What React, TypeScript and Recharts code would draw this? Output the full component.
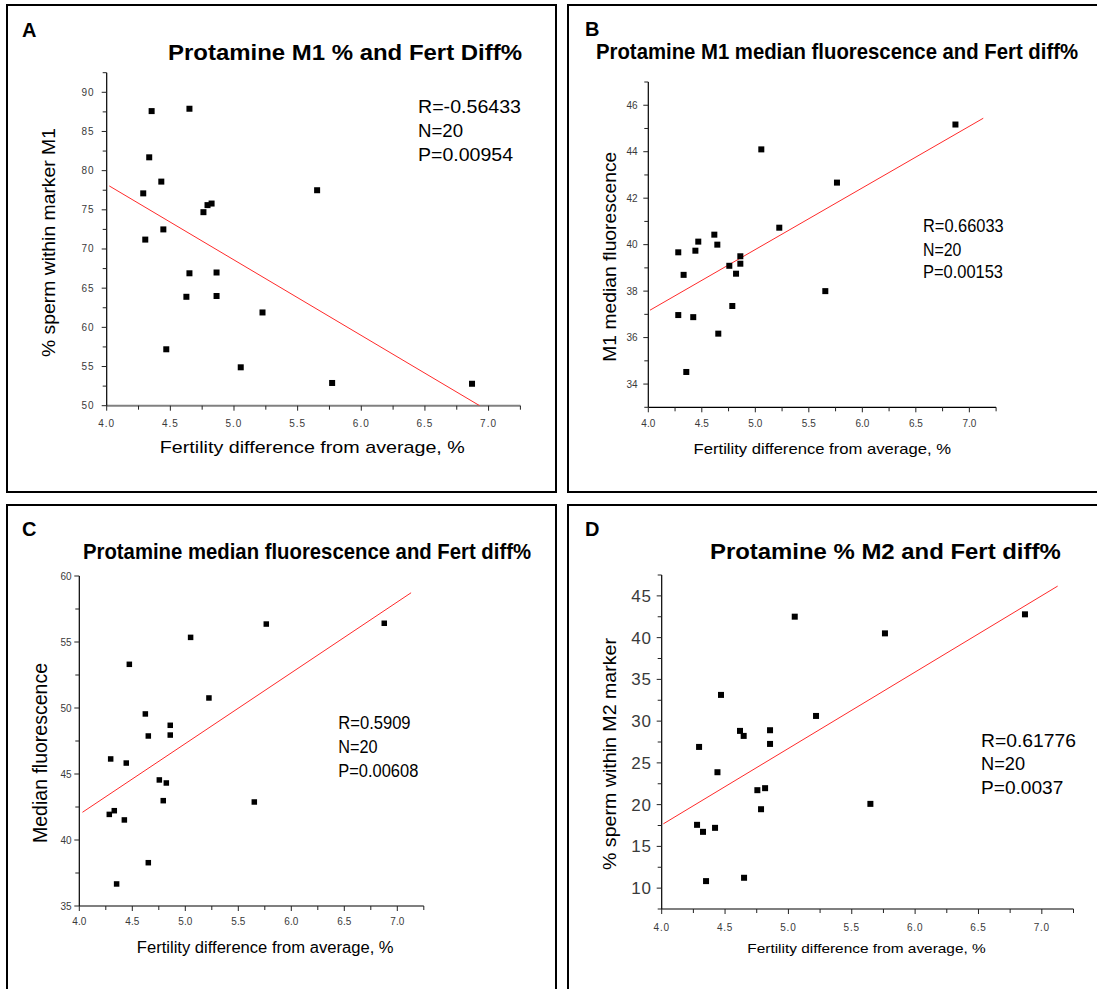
import React from "react";
import { ScatterChart, Scatter, XAxis, YAxis } from "recharts";

// fertility difference from average (%), read per panel
const fertA = [4.353, 4.65, 4.334, 4.429, 4.287, 4.792, 4.824, 4.76, 4.445, 4.303, 4.65, 4.863, 4.626, 4.863, 5.224, 4.468, 5.053, 5.653, 5.771, 6.87];
const m1Percent = [87.6, 87.9, 81.7, 78.6, 77.1, 75.6, 75.8, 74.7, 72.5, 71.2, 66.9, 67.0, 63.9, 64.0, 61.9, 57.2, 54.9, 77.5, 52.9, 52.8];

const fertB = [4.28, 4.33, 4.28, 4.355, 4.44, 4.467, 4.42, 4.617, 4.645, 4.654, 4.757, 4.785, 4.82, 4.86, 4.86, 5.056, 5.224, 5.654, 5.763, 6.87];
const m1Median = [39.67, 38.7, 36.97, 34.52, 39.74, 40.13, 36.88, 40.43, 40.0, 36.17, 39.09, 37.36, 38.75, 39.5, 39.18, 44.1, 40.73, 38.0, 42.67, 45.17];

const fertC = [4.283, 4.33, 4.296, 4.352, 4.425, 4.443, 4.472, 4.623, 4.651, 4.651, 4.755, 4.792, 4.821, 4.858, 4.858, 5.05, 5.223, 5.651, 5.764, 6.877];
const medianFluor = [41.94, 42.22, 46.14, 36.67, 41.52, 45.83, 53.31, 49.55, 47.88, 38.28, 44.55, 42.98, 44.32, 48.69, 47.95, 55.35, 50.76, 42.88, 56.36, 56.42];

const fertD = [4.279, 4.295, 4.326, 4.35, 4.421, 4.44, 4.468, 4.618, 4.647, 4.65, 4.755, 4.784, 4.816, 4.855, 4.855, 5.05, 5.218, 5.647, 5.762, 6.867];
const m2Percent = [17.58, 26.91, 16.74, 10.84, 17.22, 23.88, 33.14, 28.83, 28.23, 11.24, 21.73, 19.45, 21.97, 28.91, 27.27, 42.51, 30.62, 20.09, 40.51, 42.79];

// regression line end points
const fitAX = [4.02, 6.93];
const fitAY = [78.05, 50.0];
const fitBX = [4.016, 7.13];
const fitBY = [37.18, 45.44];
const fitCX = [4.03, 7.13];
const fitCY = [42.1, 58.73];
const fitDX = [4.013, 7.125];
const fitDY = [17.7, 46.17];

// ticks
const xTicks = [4, 4.25, 4.5, 4.75, 5, 5.25, 5.5, 5.75, 6, 6.25, 6.5, 6.75, 7, 7.25];
const yTicksA = [50, 52.5, 55, 57.5, 60, 62.5, 65, 67.5, 70, 72.5, 75, 77.5, 80, 82.5, 85, 87.5, 90, 92.5];
const yTicksB = [33, 34, 35, 36, 37, 38, 39, 40, 41, 42, 43, 44, 45, 46, 47];
const yTicksC = [35, 37.5, 40, 42.5, 45, 47.5, 50, 52.5, 55, 57.5, 60];
const yTicksD = [7.5, 10, 12.5, 15, 17.5, 20, 22.5, 25, 27.5, 30, 32.5, 35, 37.5, 40, 42.5, 45, 47.5];

const W = 1097;
const H = 989;
const Y_AXIS_W = 40;
const X_AXIS_H = 30;
const FONT = "'Liberation Sans', Arial, sans-serif";
const NARROW = "'Liberation Sans Narrow', 'Liberation Sans', Arial, sans-serif";

const pts = (xs: number[], ys: number[]) => xs.map((x, i) => ({ x, y: ys[i] }));

const isMajor = (v: number, step: number) => Math.abs(v / step - Math.round(v / step)) < 1e-6;

const panels = [
  {
    plot: { x: 106.7, y: 72.7, w: 413.7, h: 333 },
    data: pts(fertA, m1Percent), fit: pts(fitAX, fitAY),
    yDomain: [50, 92.5], yTicks: yTicksA, yStep: 5,
    xAxisColor: "#808080", xAxisWidth: 2,
    xLabelOff: 17.6, yLabelOff: 12, xFont: 10, yFont: 10, spacing: 1, size: 6,
  },
  {
    plot: { x: 648.3, y: 82, w: 347.8, h: 325.3 },
    data: pts(fertB, m1Median), fit: pts(fitBX, fitBY),
    yDomain: [33, 47], yTicks: yTicksB, yStep: 2,
    xAxisColor: "#000", xAxisWidth: 1.2,
    xLabelOff: 16, yLabelOff: 10.6, xFont: 10, yFont: 10, spacing: 0, size: 6,
  },
  {
    plot: { x: 79.3, y: 576, w: 344.5, h: 330 },
    data: pts(fertC, medianFluor), fit: pts(fitCX, fitCY),
    yDomain: [35, 60], yTicks: yTicksC, yStep: 5,
    xAxisColor: "#000", xAxisWidth: 1.2,
    xLabelOff: 15.7, yLabelOff: 7.6, xFont: 10, yFont: 10, spacing: 0, size: 5.5,
  },
  {
    plot: { x: 661.7, y: 575, w: 411.8, h: 334 },
    data: pts(fertD, m2Percent), fit: pts(fitDX, fitDY),
    yDomain: [7.5, 47.5], yTicks: yTicksD, yStep: 5,
    xAxisColor: "#000", xAxisWidth: 1.2,
    xLabelOff: 18, yLabelOff: 10, xFont: 10, yFont: 17, spacing: 0.8, size: 6,
  },
];

const Square = (size: number) => (props: any) => {
  const { cx, cy } = props;
  if (cx == null || cy == null) return <g />;
  return <rect x={cx - size / 2} y={cy - size / 2} width={size} height={size} fill="#000" />;
};

const XTick = (p: any) => (props: any) => {
  const { x, y, payload } = props;
  const v = payload.value as number;
  const major = isMajor(v, 0.5);
  return (
    <g>
      <line x1={x} x2={x} y1={y} y2={y + (major ? 5 : 4)} stroke="#222" strokeWidth={1} />
      {major && (
        <text x={x} y={y + p.xLabelOff} dy="0.35em" textAnchor="middle" fontSize={p.xFont}
          fontFamily={FONT} fill="#3a3a3a" letterSpacing={p.spacing}>
          {v.toFixed(1)}
        </text>
      )}
    </g>
  );
};

const YTick = (p: any) => (props: any) => {
  const { x, y, payload } = props;
  const v = payload.value as number;
  const major = isMajor(v, p.yStep);
  return (
    <g>
      <line x1={x} x2={x - (major ? 5 : 4)} y1={y} y2={y} stroke="#222" strokeWidth={1} />
      {major && (
        <text x={x - p.yLabelOff} y={y} dy="0.35em" textAnchor="end" fontSize={p.yFont}
          fontFamily={FONT} fill="#3a3a3a" letterSpacing={p.spacing}>
          {v}
        </text>
      )}
    </g>
  );
};

const Panel = ({ p }: { p: any }) => {
  const margin = {
    left: p.plot.x - Y_AXIS_W,
    top: p.plot.y,
    right: W - p.plot.x - p.plot.w,
    bottom: H - p.plot.y - p.plot.h - X_AXIS_H,
  };
  return (
    <div style={{ position: "absolute", left: 0, top: 0 }}>
      <ScatterChart width={W} height={H} margin={margin}>
        <XAxis type="number" dataKey="x" domain={[4, 7.25]} ticks={xTicks} interval={0}
          allowDataOverflow height={X_AXIS_H} tickSize={0} tickMargin={0} tickLine={false}
          axisLine={{ stroke: p.xAxisColor, strokeWidth: p.xAxisWidth }} tick={XTick(p)} />
        <YAxis type="number" dataKey="y" domain={p.yDomain} ticks={p.yTicks} interval={0}
          allowDataOverflow width={Y_AXIS_W} tickSize={0} tickMargin={0} tickLine={false}
          axisLine={{ stroke: "#000", strokeWidth: 1.2 }} tick={YTick(p)} />
        <Scatter data={p.fit} line={{ stroke: "#ff2a2a", strokeWidth: 1 }} shape={() => <g />}
          isAnimationActive={false} />
        <Scatter data={p.data} shape={Square(p.size)} isAnimationActive={false} />
      </ScatterChart>
    </div>
  );
};

const T = (props: any) => <text fontFamily={FONT} fill="#000" lengthAdjust="spacingAndGlyphs" {...props} />;

const VT = ({ cx, cy, len, size, children }: any) => (
  <text transform={`translate(${cx},${cy}) rotate(-90)`} textAnchor="middle" dominantBaseline="central"
    fontFamily={FONT} fontSize={size} textLength={len} lengthAdjust="spacingAndGlyphs" fill="#000">
    {children}
  </text>
);

const box = (left: number, top: number, width: number, height: number): React.CSSProperties => ({
  position: "absolute", left, top, width, height, border: "2.2px solid #000", boxSizing: "border-box",
});

export default function App() {
  return (
    <div style={{ position: "absolute", left: 0, top: 0, width: W, height: H, overflow: "hidden", background: "#fff" }}>
      <div style={box(6, 4, 551, 489)} />
      <div style={box(567, 4, 600, 489)} />
      <div style={box(6, 504, 551, 600)} />
      <div style={box(567, 504, 600, 600)} />
      {panels.map((p, i) => <Panel key={i} p={p} />)}
      <svg width={W} height={H} style={{ position: "absolute", left: 0, top: 0, pointerEvents: "none" }}>
        {/* A */}
        <T x={22} y={37} fontSize={20} fontWeight="bold">A</T>
        <T x={168} y={60} fontSize={22} fontWeight="bold" textLength={354}>Protamine M1 % and Fert Diff%</T>
        <T x={418} y={113} fontSize={18} textLength={103}>R=-0.56433</T>
        <T x={418} y={137} fontSize={18} textLength={45}>N=20</T>
        <T x={418} y={161} fontSize={18} textLength={95}>P=0.00954</T>
        <VT cx={49} cy={242.5} len={229} size={18}>% sperm within marker M1</VT>
        <T x={312.3} y={453.3} fontSize={17} textAnchor="middle" textLength={305}>Fertility difference from average, %</T>
        {/* B */}
        <T x={585} y={36} fontSize={20} fontWeight="bold">B</T>
        <T x={596} y={59.3} fontSize={22} fontWeight="bold" fontFamily={NARROW} textLength={482}>Protamine M1 median fluorescence and Fert diff%</T>
        <T x={923} y={231.7} fontSize={18} textLength={80.7}>R=0.66033</T>
        <T x={923} y={255.7} fontSize={18} textLength={38.3}>N=20</T>
        <T x={923} y={278.3} fontSize={18} textLength={80}>P=0.00153</T>
        <VT cx={609} cy={256.7} len={210} size={19}>M1 median fluorescence</VT>
        <T x={822.3} y={453.5} fontSize={15} textAnchor="middle" textLength={257.4}>Fertility difference from average, %</T>
        {/* C */}
        <T x={22} y={536} fontSize={20} fontWeight="bold">C</T>
        <T x={83} y={559} fontSize={22} fontWeight="bold" fontFamily={NARROW} textLength={448}>Protamine median fluorescence and Fert diff%</T>
        <T x={338.3} y={729} fontSize={18} textLength={72.3}>R=0.5909</T>
        <T x={338.3} y={752.7} fontSize={18} textLength={39.3}>N=20</T>
        <T x={338.3} y={776.7} fontSize={18} textLength={80}>P=0.00608</T>
        <VT cx={40} cy={753} len={180} size={20}>Median fluorescence</VT>
        <T x={265.2} y={953} fontSize={16} textAnchor="middle" textLength={256.8}>Fertility difference from average, %</T>
        {/* D */}
        <T x={585} y={536} fontSize={20} fontWeight="bold">D</T>
        <T x={710} y={559.3} fontSize={22} fontWeight="bold" textLength={350.7}>Protamine % M2 and Fert diff%</T>
        <T x={981} y={746.7} fontSize={18.5} textLength={95}>R=0.61776</T>
        <T x={981} y={770} fontSize={18.5} textLength={44}>N=20</T>
        <T x={981} y={794} fontSize={18.5} textLength={82.3}>P=0.0037</T>
        <VT cx={610} cy={754} len={232} size={18}>% sperm within M2 marker</VT>
        <T x={866.5} y={953} fontSize={13} textAnchor="middle" textLength={238.4}>Fertility difference from average, %</T>
      </svg>
    </div>
  );
}
